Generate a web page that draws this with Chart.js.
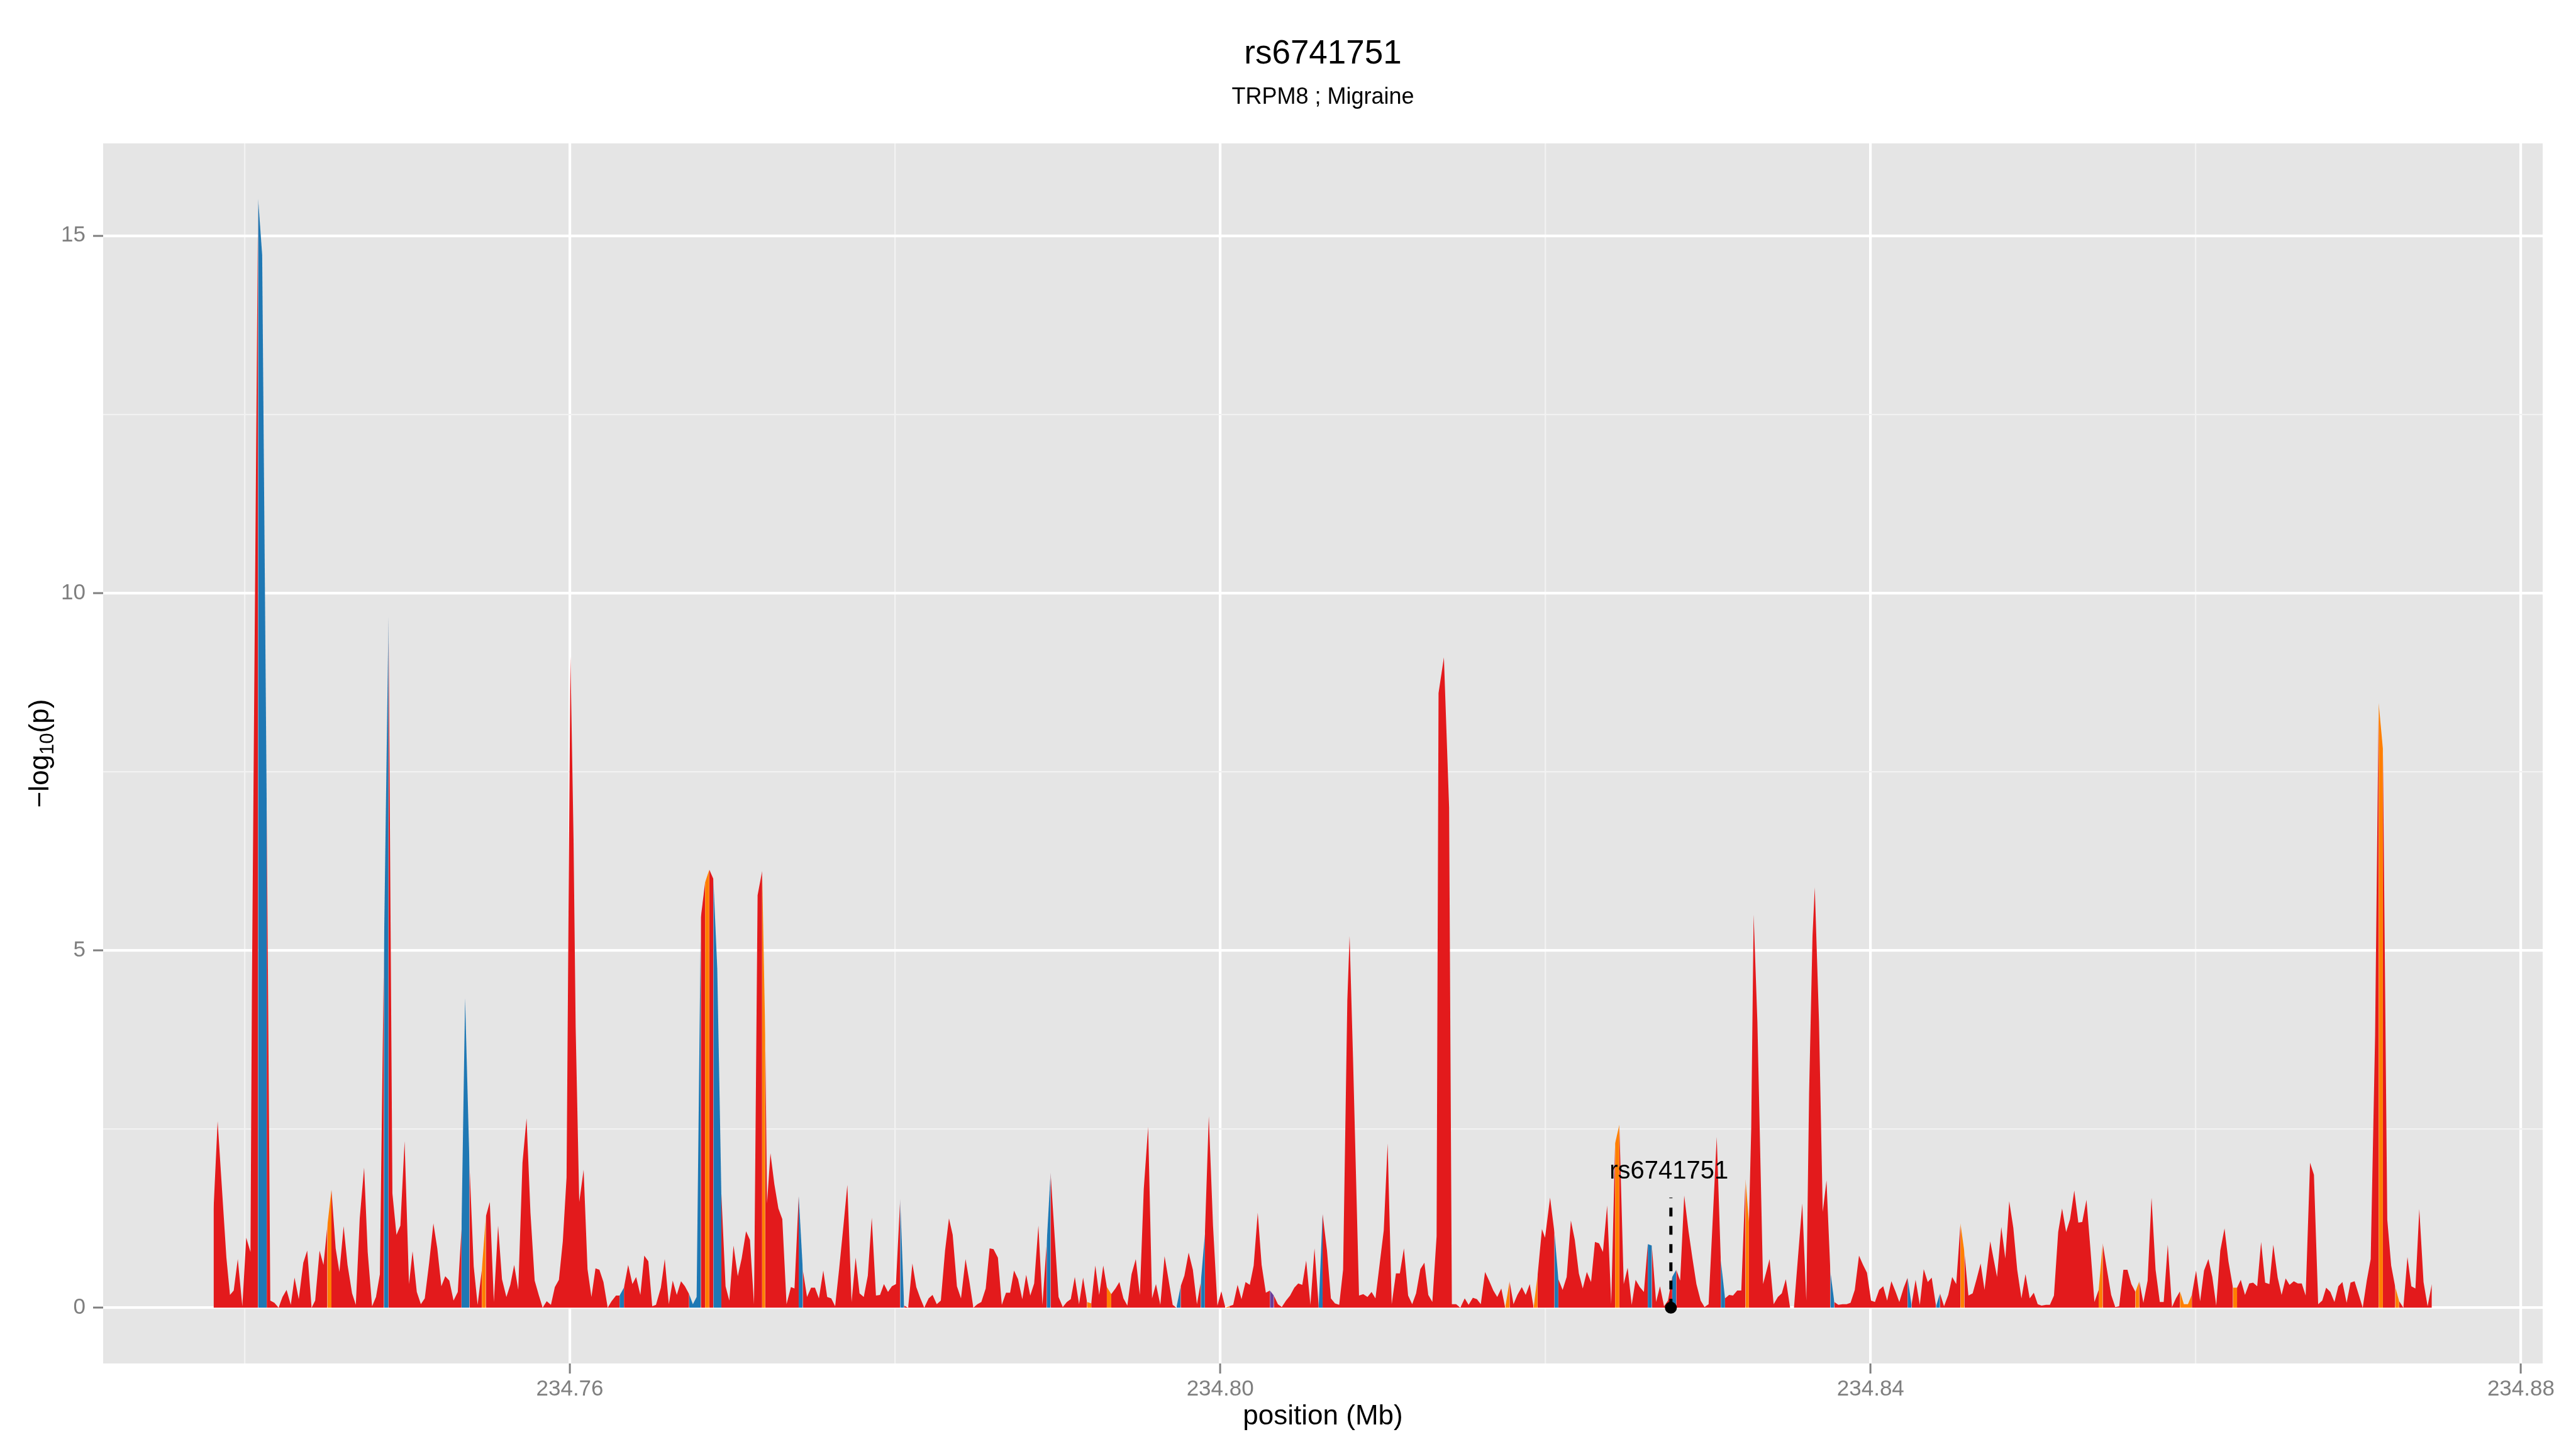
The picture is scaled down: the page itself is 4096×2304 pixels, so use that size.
<!DOCTYPE html>
<html>
<head>
<meta charset="utf-8">
<style>
html,body{margin:0;padding:0;background:#ffffff;}
canvas{display:block;}
</style>
<script src="https://cdn.jsdelivr.net/npm/chart.js@4.4.1/dist/chart.umd.min.js"></script>
</head>
<body>
<canvas id="chart" width="4096" height="2304" style="width:4096px;height:2304px"></canvas>
<script>
// ---------------- texts ----------------
const chartTitle = 'rs6741751';
const chartSubtitle = 'TRPM8 ; Migraine';
const xAxisTitle = 'position (Mb)';
const leadSnpName = 'rs6741751';
const leadSnpPosition = 234.82772;
const leadSnpMarkerTop = 1.54;

// ---------------- ticks ----------------
const xMajorTicks = [234.76, 234.80, 234.84, 234.88];
const xMinorTicks = [234.74, 234.78, 234.82, 234.86];
const yMajorTicks = [0, 5, 10, 15];
const yMinorTicks = [2.5, 7.5, 12.5];

// ---------------- data: SNP position (Mb) ----------------
const positionMb = [
234.73809,234.73834,234.73888,234.73910,234.73933,234.73958,234.73986,234.74010,234.74036,234.74045,
234.74083,234.74108,234.74136,234.74158,234.74183,234.74209,234.74233,234.74258,234.74284,234.74307,
234.74333,234.74361,234.74385,234.74412,234.74434,234.74461,234.74485,234.74509,234.74534,234.74560,
234.74583,234.74609,234.74633,234.74661,234.74684,234.74708,234.74735,234.74757,234.74784,234.74808,
234.74832,234.74857,234.74885,234.74909,234.74934,234.74958,234.74984,234.75011,234.75033,234.75059,
234.75084,234.75108,234.75135,234.75161,234.75185,234.75210,234.75234,234.75259,234.75285,234.75311,
234.75334,234.75356,234.75383,234.75409,234.75433,234.75459,234.75484,234.75508,234.75533,234.75559,
234.75583,234.75610,234.75634,234.75658,234.75683,234.75709,234.75734,234.75758,234.75784,234.75809,
234.75833,234.75858,234.75884,234.75908,234.75933,234.75957,234.75980,234.76004,234.76023,234.76036,
234.76058,234.76085,234.76109,234.76133,234.76158,234.76182,234.76207,234.76233,234.76257,234.76284,
234.76306,234.76333,234.76359,234.76385,234.76408,234.76434,234.76458,234.76483,234.76507,
234.76530,234.76560,234.76584,234.76609,234.76633,234.76658,234.76684,234.76708,234.76734,234.76757,
234.76780,234.76806,234.76832,234.76858,234.76883,234.76907,234.76932,234.76958,234.76981,234.77007,
234.77033,234.77057,234.77084,234.77108,234.77133,234.77155,234.77183,234.77202,234.77213,234.77234,
234.77258,234.77283,234.77307,234.77333,234.77360,234.77382,234.77408,234.77433,234.77459,234.77484,
234.77508,234.77532,234.77559,234.77583,234.77608,234.77632,234.77656,234.77683,234.77707,234.77733,
234.77758,234.77782,234.77808,234.77833,234.77857,234.77883,234.77908,234.77932,234.77957,234.77981,
234.78006,234.78032,234.78056,234.78081,234.78107,234.78131,234.78156,234.78180,234.78207,234.78231,
234.78257,234.78282,234.78308,234.78332,234.78355,234.78381,234.78406,234.78434,234.78458,234.78482,
234.78507,234.78531,234.78558,234.78582,234.78606,234.78633,234.78657,234.78683,234.78708,234.78732,
234.78757,234.78783,234.78807,234.78832,234.78856,234.78882,234.78907,234.78933,234.78957,234.79006,
234.79032,234.79057,234.79081,234.79106,234.79132,234.79157,234.79181,234.79207,234.79232,234.79256,
234.79281,234.79303,234.79330,234.79356,234.79380,234.79405,234.79429,234.79455,234.79481,
234.79506,234.79530,234.79557,234.79581,234.79605,234.79632,234.79658,234.79682,234.79708,234.79731,
234.79757,234.79780,234.79806,234.79832,234.79857,234.79881,234.79906,234.79930,234.79956,234.79983,
234.80007,234.80032,234.80056,234.80080,234.80107,234.80131,234.80156,234.80182,234.80206,234.80231,
234.80255,234.80281,234.80306,234.80330,234.80355,234.80379,234.80405,234.80430,234.80456,234.80480,
234.80505,234.80529,234.80555,234.80580,234.80606,234.80630,234.80657,234.80681,234.80706,234.80732,
234.80756,234.80782,234.80796,234.80817,234.80854,234.80880,234.80906,234.80931,234.80955,234.81006,
234.81030,234.81055,234.81081,234.81105,234.81130,234.81156,234.81181,234.81205,234.81231,234.81256,
234.81280,234.81305,234.81331,234.81343,234.81376,234.81408,234.81425,234.81451,234.81477,234.81504,
234.81528,234.81554,234.81579,234.81603,234.81629,234.81654,234.81680,234.81704,234.81729,234.81753,
234.81780,234.81804,234.81828,234.81855,234.81879,234.81904,234.81928,234.81952,234.81979,
234.81998,234.82029,234.82056,234.82080,234.82106,234.82131,234.82157,234.82181,234.82206,234.82230,
234.82255,234.82281,234.82305,234.82330,234.82354,234.82380,234.82405,234.82429,234.82455,234.82482,
234.82506,234.82531,234.82555,234.82581,234.82606,234.82630,234.82655,234.82681,234.82705,234.82730,
234.82754,234.82780,234.82805,234.82829,234.82854,234.82880,234.82904,234.82929,234.82955,234.82979,
234.83004,234.83054,234.83079,234.83105,234.83130,234.83154,234.83180,234.83205,234.83231,234.83252,
234.83266,234.83281,234.83304,234.83339,234.83379,234.83404,234.83430,234.83454,234.83479,234.83505,
234.83529,234.83580,234.83605,234.83622,234.83643,234.83657,234.83683,234.83706,234.83729,234.83753,
234.83777,234.83802,234.83828,234.83853,234.83877,234.83903,234.83929,234.83954,234.83978,234.84003,
234.84027,234.84053,234.84078,234.84102,234.84128,234.84153,234.84177,234.84204,234.84228,234.84252,
234.84277,234.84303,234.84327,234.84352,234.84376,234.84403,234.84427,234.84452,234.84478,234.84502,
234.84527,234.84553,234.84577,234.84602,234.84628,234.84652,234.84677,234.84701,
234.84736,234.84778,234.84804,234.84829,234.84853,234.84878,234.84902,234.84928,234.84953,234.84979,
234.85004,234.85028,234.85052,234.85079,234.85103,234.85128,234.85154,234.85178,234.85203,234.85227,
234.85253,234.85278,234.85302,234.85328,234.85353,234.85377,234.85403,234.85428,234.85454,234.85480,
234.85505,234.85529,234.85555,234.85580,234.85604,234.85629,234.85653,234.85678,234.85704,234.85728,
234.85753,234.85779,234.85803,234.85828,234.85854,234.85878,234.85903,234.85927,234.85952,234.85976,
234.86002,234.86027,234.86051,234.86078,234.86102,234.86126,234.86151,234.86177,234.86201,234.86229,
234.86254,234.86277,234.86303,234.86329,234.86353,234.86378,234.86402,234.86427,234.86453,234.86477,
234.86504,234.86528,234.86553,234.86577,234.86603,234.86628,234.86652,234.86676,234.86703,234.86727,
234.86753,234.86778,234.86802,234.86828,234.86853,234.86877,234.86902,234.86928,234.86952,234.86977,
234.87003,234.87027,234.87052,234.87076,234.87103,234.87125,234.87151,234.87178,234.87202,234.87227,
234.87251,234.87277,234.87302,234.87326,234.87351,234.87375,234.87401,234.87426,234.87452
];

// ---------------- data: -log10(p) ----------------
const minusLog10P = [
1.38,2.61,0.70,0.18,0.24,0.68,0.02,0.98,0.78,4.50,
15.52,14.73,7.00,0.10,0.07,0.00,0.15,0.25,0.04,0.42,
0.12,0.63,0.80,0.00,0.10,0.80,0.60,1.15,1.65,0.83,
0.50,1.14,0.60,0.20,0.04,1.25,1.96,0.78,0.02,0.15,
0.47,5.00,9.67,1.60,1.02,1.15,2.33,0.33,0.79,0.22,
0.05,0.13,0.63,1.18,0.83,0.30,0.44,0.38,0.10,0.22,
1.10,4.33,2.00,0.58,0.04,0.53,1.28,1.48,0.08,1.15,
0.40,0.15,0.32,0.60,0.25,2.03,2.65,1.33,0.38,0.18,
0.00,0.09,0.04,0.29,0.39,0.93,1.82,9.11,6.56,3.93,
1.48,1.93,0.54,0.15,0.55,0.53,0.36,0.00,0.09,0.17,
0.17,0.28,0.60,0.33,0.43,0.18,0.73,0.65,0.02,
0.04,0.28,0.68,0.05,0.38,0.18,0.37,0.30,0.19,0.05,
0.15,5.46,5.95,6.13,6.00,4.74,1.60,0.30,0.10,0.87,
0.44,0.69,1.07,0.95,0.05,5.77,6.11,3.80,1.46,2.16,
1.73,1.39,1.24,0.05,0.29,0.27,1.57,0.53,0.15,0.28,
0.28,0.13,0.52,0.15,0.13,0.02,0.53,1.15,1.72,0.08,
0.70,0.20,0.15,0.45,1.26,0.17,0.18,0.33,0.22,0.30,
0.33,1.52,0.03,0.00,0.62,0.29,0.13,0.00,0.13,0.18,
0.05,0.10,0.80,1.25,1.02,0.30,0.13,0.68,0.36,0.00,
0.05,0.08,0.27,0.83,0.82,0.70,0.04,0.21,0.21,0.52,
0.40,0.12,0.46,0.17,0.34,1.15,0.04,0.90,1.89,0.15,
0.01,0.08,0.12,0.43,0.05,0.42,0.08,0.06,0.59,0.18,
0.59,0.29,0.19,0.27,0.36,0.13,0.03,0.47,0.68,
0.18,1.66,2.53,0.13,0.33,0.04,0.72,0.40,0.04,0.00,
0.30,0.45,0.77,0.53,0.05,0.36,1.03,2.68,1.15,0.03,
0.23,0.00,0.02,0.04,0.32,0.12,0.36,0.32,0.59,1.33,
0.60,0.21,0.24,0.17,0.05,0.01,0.10,0.17,0.28,0.34,
0.32,0.66,0.04,0.83,0.02,1.31,0.80,0.13,0.06,0.04,
0.53,4.30,5.20,3.50,0.17,0.19,0.15,0.22,0.13,1.08,
2.30,0.05,0.48,0.48,0.83,0.17,0.05,0.20,0.54,0.63,
0.18,0.08,1.00,8.60,9.10,7.00,0.05,0.05,0.00,0.13,
0.04,0.14,0.12,0.05,0.50,0.38,0.24,0.15,0.27,0.00,
0.37,0.05,0.18,0.29,0.18,0.33,0.00,0.45,1.10,
0.98,1.54,1.05,0.40,0.25,0.43,1.22,0.95,0.48,0.27,
0.50,0.36,0.92,0.90,0.78,1.43,0.05,2.30,2.56,0.33,
0.56,0.04,0.39,0.29,0.22,0.89,0.87,0.08,0.30,0.02,
0.10,0.43,0.53,0.38,1.57,1.08,0.70,0.33,0.10,0.01,
0.05,2.39,0.66,0.13,0.18,0.17,0.24,0.24,1.80,1.20,
2.50,5.50,4.00,0.33,0.68,0.05,0.15,0.20,0.40,0.00,
0.00,1.46,0.10,3.00,5.20,5.88,4.00,1.34,1.78,0.50,
0.08,0.04,0.05,0.05,0.07,0.25,0.73,0.60,0.49,0.10,
0.08,0.25,0.30,0.10,0.37,0.23,0.08,0.28,0.42,0.04,
0.39,0.04,0.54,0.36,0.42,0.02,0.20,0.02,0.18,0.43,
0.33,1.18,0.78,0.17,0.20,0.40,0.62,0.25,
0.93,0.43,1.13,0.69,1.49,1.12,0.53,0.13,0.47,0.13,
0.21,0.05,0.03,0.04,0.04,0.17,1.06,1.39,1.06,1.24,
1.64,1.19,1.20,1.51,0.80,0.08,0.25,0.90,0.53,0.18,
0.01,0.02,0.53,0.53,0.33,0.22,0.37,0.07,0.38,1.54,
0.53,0.08,0.08,0.88,0.01,0.13,0.23,0.05,0.05,0.18,
0.52,0.09,0.52,0.68,0.43,0.03,0.80,1.11,0.65,0.28,
0.28,0.39,0.18,0.34,0.35,0.30,0.92,0.35,0.33,0.88,
0.42,0.18,0.41,0.32,0.37,0.34,0.34,0.17,2.03,1.86,
0.05,0.10,0.28,0.22,0.08,0.30,0.36,0.07,0.35,0.37,
0.18,0.00,0.38,0.68,3.80,8.46,7.82,1.23,0.59,0.29,
0.09,0.00,0.71,0.30,0.27,1.38,0.36,0.02,0.33
];

// ---------------- SNP classes (colour of the stretch starting at that SNP) ----------------
const blueSnps = [234.74083,234.74108,234.74857,234.75334,234.75356,234.76306,234.76734,234.76757,
  234.76780,234.76883,234.76907,234.77408,234.78032,234.78933,234.79731,234.79881,234.80606,
  234.82056,234.82630,234.82780,234.83079,234.83753,234.84228,234.84403];
const orangeSnps = [234.74509,234.75459,234.76832,234.77183,234.79181,234.79303,234.80032,234.81753,
  234.81928,234.82429,234.83231,234.84553,234.85403,234.85629,234.85903,234.85927,234.85952,
  234.86229,234.87125,234.87227];
const purpleSnps = [234.80306];

// ---------------- colours ----------------
const RED = '#E31A1C', BLUE = '#1F78B4', ORANGE = '#FF7F00', PURPLE = '#6A3D9A';
const PANEL = '#E5E5E5';
const FONT = '"Liberation Sans", Arial, Helvetica, sans-serif';

const keyOf = v => v.toFixed(5);
const classColour = new Map();
blueSnps.forEach(v => classColour.set(keyOf(v), BLUE));
orangeSnps.forEach(v => classColour.set(keyOf(v), ORANGE));
purpleSnps.forEach(v => classColour.set(keyOf(v), PURPLE));
const segColour = positionMb.map(p => classColour.get(keyOf(p)) || RED);

const areaData = positionMb.map((x, i) => ({x: x, y: minusLog10P[i]}));

const near = (v, arr) => arr.some(a => Math.abs(a - v) < 1e-6);

const panelBg = {
  id: 'panelBg',
  beforeDraw(chart) {
    const {ctx, chartArea: a} = chart;
    ctx.save();
    ctx.fillStyle = PANEL;
    ctx.fillRect(a.left, a.top, a.right - a.left, a.bottom - a.top);
    ctx.restore();
  }
};

const texts = {
  id: 'texts',
  afterDatasetsDraw(chart) {
    const {ctx} = chart;
    const xs = chart.scales.x, ys = chart.scales.y;
    ctx.save();
    ctx.fillStyle = '#000000';
    ctx.textAlign = 'center';
    ctx.textBaseline = 'alphabetic';
    ctx.font = '40px ' + FONT;
    ctx.fillText(leadSnpName, xs.getPixelForValue(leadSnpPosition) - 3, ys.getPixelForValue(1.805));
    ctx.restore();
  },
  afterDraw(chart) {
    const {ctx, chartArea: a} = chart;
    const cx = (a.left + a.right) / 2;
    ctx.save();
    ctx.fillStyle = '#000000';
    ctx.textAlign = 'center';
    ctx.textBaseline = 'alphabetic';
    ctx.font = '53px ' + FONT;
    ctx.fillText(chartTitle, cx, 101);
    ctx.font = '36px ' + FONT;
    ctx.fillText(chartSubtitle, cx, 165);
    ctx.font = '44px ' + FONT;
    ctx.fillText(xAxisTitle, cx, 2265);
    // y axis title: -log10(p)
    const cy = (a.top + a.bottom) / 2;
    ctx.translate(77, cy);
    ctx.rotate(-Math.PI / 2);
    ctx.textAlign = 'left';
    ctx.font = '44px ' + FONT;
    const w1 = ctx.measureText('\u2212log').width;
    const w3 = ctx.measureText('(p)').width;
    ctx.font = '31px ' + FONT;
    const w2 = ctx.measureText('10').width;
    let x = -(w1 + w2 + w3) / 2;
    ctx.font = '44px ' + FONT;
    ctx.fillText('\u2212log', x, 0);
    x += w1;
    ctx.font = '31px ' + FONT;
    ctx.fillText('10', x, 8);
    x += w2;
    ctx.font = '44px ' + FONT;
    ctx.fillText('(p)', x, 0);
    ctx.restore();
  }
};

new Chart(document.getElementById('chart'), {
  type: 'line',
  data: {
    datasets: [
      {
        label: leadSnpName,
        data: [{x: leadSnpPosition, y: 0}, {x: leadSnpPosition, y: leadSnpMarkerTop}],
        borderColor: '#000000',
        borderWidth: 5,
        borderDash: [14, 15],
        borderCapStyle: 'butt',
        pointRadius: [9.5, 0],
        pointBackgroundColor: '#000000',
        pointBorderWidth: 0,
        pointHoverRadius: 0,
        fill: false
      },
      {
        label: 'SNPs',
        data: areaData,
        borderWidth: 0,
        borderColor: 'rgba(0,0,0,0)',
        backgroundColor: RED,
        fill: 'origin',
        tension: 0,
        pointRadius: 0,
        pointHoverRadius: 0,
        segment: {
          backgroundColor: c => segColour[c.p0DataIndex]
        }
      }
    ]
  },
  options: {
    responsive: false,
    animation: false,
    devicePixelRatio: 1,
    events: [],
    layout: {padding: {left: 0, right: 53, top: 228, bottom: 0}},
    plugins: {legend: {display: false}, tooltip: {enabled: false}, title: {display: false}},
    scales: {
      x: {
        type: 'linear',
        min: 234.731299,
        max: 234.881337,
        afterBuildTicks: s => { s.ticks = xMinorTicks.concat(xMajorTicks).sort((p, q) => p - q).map(v => ({value: v})); },
        afterFit: s => { s.height = 136; s.paddingLeft = 0; s.paddingRight = 0; s.paddingTop = 0; s.paddingBottom = 0; },
        border: {display: false},
        grid: {
          drawOnChartArea: true,
          drawTicks: true,
          tickLength: 16,
          color: c => (c.tick && near(c.tick.value, xMajorTicks)) ? '#FFFFFF' : '#F2F2F2',
          lineWidth: c => (c.tick && near(c.tick.value, xMajorTicks)) ? 4.2 : 2.3,
          tickColor: c => (c.tick && near(c.tick.value, xMajorTicks)) ? '#7F7F7F' : 'rgba(0,0,0,0)',
          tickWidth: 3
        },
        ticks: {
          autoSkip: false,
          maxRotation: 0,
          minRotation: 0,
          padding: 4,
          color: '#7F7F7F',
          font: {family: FONT, size: 35},
          callback: v => near(v, xMajorTicks) ? v.toFixed(2) : ''
        }
      },
      y: {
        type: 'linear',
        min: -0.78,
        max: 16.29,
        afterBuildTicks: s => { s.ticks = yMajorTicks.concat(yMinorTicks).sort((p, q) => p - q).map(v => ({value: v})); },
        afterFit: s => { s.width = 164; s.paddingLeft = 0; s.paddingRight = 0; s.paddingTop = 0; s.paddingBottom = 0; },
        border: {display: false},
        grid: {
          drawOnChartArea: true,
          drawTicks: true,
          tickLength: 16,
          color: c => (c.tick && near(c.tick.value, yMajorTicks)) ? '#FFFFFF' : '#F2F2F2',
          lineWidth: c => (c.tick && near(c.tick.value, yMajorTicks)) ? 4.2 : 2.3,
          tickColor: c => (c.tick && near(c.tick.value, yMajorTicks)) ? '#7F7F7F' : 'rgba(0,0,0,0)',
          tickWidth: 3
        },
        ticks: {
          autoSkip: false,
          padding: 12,
          color: '#7F7F7F',
          font: {family: FONT, size: 35},
          callback: v => near(v, yMajorTicks) ? String(v) : ''
        }
      }
    }
  },
  plugins: [panelBg, texts]
});
</script>
</body>
</html>
